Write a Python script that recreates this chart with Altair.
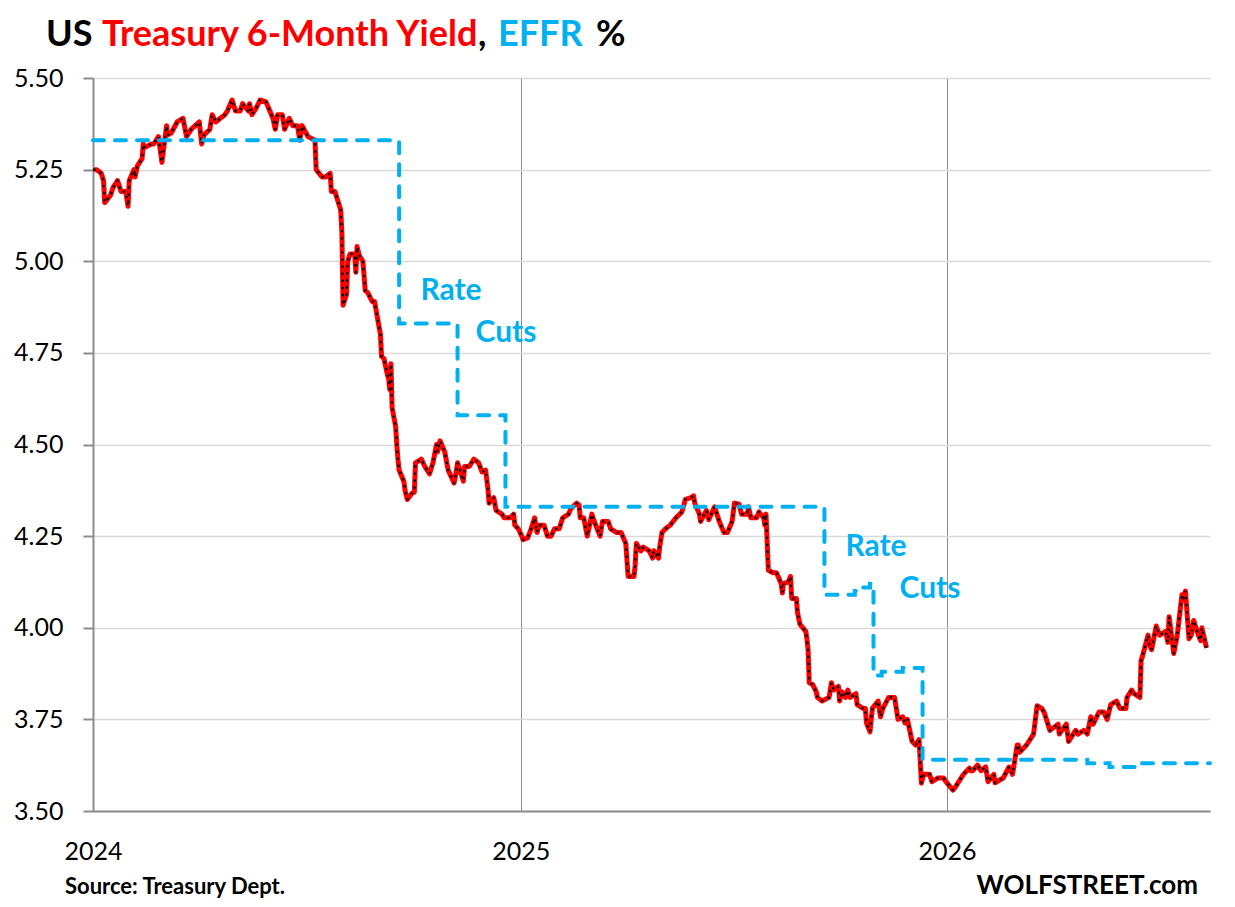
import altair as alt
import pandas as pd

# ---------------- data ----------------
yield_dates = [
    "2024-01-02", "2024-01-04", "2024-01-08", "2024-01-10", "2024-01-11", "2024-01-16", "2024-01-18",
    "2024-01-22", "2024-01-25", "2024-01-29", "2024-01-31", "2024-02-01", "2024-02-05", "2024-02-06",
    "2024-02-08", "2024-02-12", "2024-02-13", "2024-02-14", "2024-02-20", "2024-02-22", "2024-02-26",
    "2024-02-29", "2024-03-04", "2024-03-05", "2024-03-08", "2024-03-13", "2024-03-18", "2024-03-21",
    "2024-03-25", "2024-04-01", "2024-04-03", "2024-04-05", "2024-04-10", "2024-04-12", "2024-04-15",
    "2024-04-19", "2024-04-23", "2024-04-25", "2024-04-29", "2024-05-02", "2024-05-06", "2024-05-08",
    "2024-05-13", "2024-05-14", "2024-05-16", "2024-05-20", "2024-05-23", "2024-05-28", "2024-05-30",
    "2024-06-03", "2024-06-05", "2024-06-07", "2024-06-11", "2024-06-13", "2024-06-17", "2024-06-20",
    "2024-06-24", "2024-06-26", "2024-06-28", "2024-07-03", "2024-07-09", "2024-07-10", "2024-07-15",
    "2024-07-18", "2024-07-22", "2024-07-23", "2024-07-26", "2024-07-29", "2024-07-31", "2024-08-01",
    "2024-08-02", "2024-08-05", "2024-08-06", "2024-08-08", "2024-08-12", "2024-08-13", "2024-08-14",
    "2024-08-16", "2024-08-19", "2024-08-20", "2024-08-21", "2024-08-23", "2024-08-27", "2024-08-29",
    "2024-09-03", "2024-09-04", "2024-09-06", "2024-09-09", "2024-09-10", "2024-09-11", "2024-09-12",
    "2024-09-13", "2024-09-16", "2024-09-17", "2024-09-18", "2024-09-19", "2024-09-23", "2024-09-24",
    "2024-09-26", "2024-09-30", "2024-10-02", "2024-10-03", "2024-10-08", "2024-10-11", "2024-10-15",
    "2024-10-18", "2024-10-21", "2024-10-22", "2024-10-24", "2024-10-28", "2024-10-31", "2024-11-05",
    "2024-11-06", "2024-11-08", "2024-11-13", "2024-11-14", "2024-11-18", "2024-11-22", "2024-11-26",
    "2024-11-29", "2024-12-02", "2024-12-04", "2024-12-05", "2024-12-09", "2024-12-11", "2024-12-16",
    "2024-12-18", "2024-12-23", "2024-12-26", "2024-12-27", "2024-12-30",
    "2025-01-02", "2025-01-03", "2025-01-07", "2025-01-10", "2025-01-13", "2025-01-15", "2025-01-17",
    "2025-01-21", "2025-01-24", "2025-01-27", "2025-01-30", "2025-02-03", "2025-02-06", "2025-02-11",
    "2025-02-13", "2025-02-18", "2025-02-20", "2025-02-21", "2025-02-24", "2025-02-27", "2025-03-03",
    "2025-03-05", "2025-03-10", "2025-03-12", "2025-03-17", "2025-03-19", "2025-03-24", "2025-03-28",
    "2025-04-01", "2025-04-03", "2025-04-08", "2025-04-09", "2025-04-10", "2025-04-14", "2025-04-16",
    "2025-04-21", "2025-04-24", "2025-04-25", "2025-04-29", "2025-04-30", "2025-05-02", "2025-05-05",
    "2025-05-09", "2025-05-14", "2025-05-19", "2025-05-22", "2025-05-27", "2025-05-29", "2025-05-30",
    "2025-06-03", "2025-06-04", "2025-06-09", "2025-06-11", "2025-06-16", "2025-06-20", "2025-06-24",
    "2025-06-27", "2025-07-01", "2025-07-03", "2025-07-07", "2025-07-09", "2025-07-14", "2025-07-15",
    "2025-07-17", "2025-07-22", "2025-07-24", "2025-07-28", "2025-07-29", "2025-07-30", "2025-08-01",
    "2025-08-05", "2025-08-08", "2025-08-12", "2025-08-13", "2025-08-14", "2025-08-18", "2025-08-20",
    "2025-08-21", "2025-08-25", "2025-08-26", "2025-08-28", "2025-09-02", "2025-09-03", "2025-09-04",
    "2025-09-05", "2025-09-08", "2025-09-11", "2025-09-12", "2025-09-16", "2025-09-22", "2025-09-24",
    "2025-09-26", "2025-09-30", "2025-10-01", "2025-10-03", "2025-10-06", "2025-10-08", "2025-10-10",
    "2025-10-15", "2025-10-16", "2025-10-21", "2025-10-23", "2025-10-24", "2025-10-27", "2025-10-29",
    "2025-11-03", "2025-11-05", "2025-11-07", "2025-11-12", "2025-11-17", "2025-11-18", "2025-11-20",
    "2025-11-24", "2025-11-26", "2025-11-28", "2025-12-02", "2025-12-05", "2025-12-08", "2025-12-10",
    "2025-12-12", "2025-12-17", "2025-12-19", "2025-12-24", "2025-12-29", "2025-12-31",
    "2026-01-06", "2026-01-08", "2026-01-13", "2026-01-15", "2026-01-20", "2026-01-21", "2026-01-23",
    "2026-01-27", "2026-01-30", "2026-02-03", "2026-02-05", "2026-02-10", "2026-02-11", "2026-02-18",
    "2026-02-23", "2026-02-26", "2026-03-02", "2026-03-03", "2026-03-04", "2026-03-10", "2026-03-16",
    "2026-03-19", "2026-03-23", "2026-03-25", "2026-03-30", "2026-04-06", "2026-04-07", "2026-04-13",
    "2026-04-15", "2026-04-21", "2026-04-23", "2026-04-28", "2026-05-01", "2026-05-04", "2026-05-06",
    "2026-05-11", "2026-05-15", "2026-05-18", "2026-05-21", "2026-05-26", "2026-05-29", "2026-06-03",
    "2026-06-04", "2026-06-08", "2026-06-10", "2026-06-15", "2026-06-16", "2026-06-17", "2026-06-22",
    "2026-06-23", "2026-06-25", "2026-06-29", "2026-06-30", "2026-07-02", "2026-07-07", "2026-07-09",
    "2026-07-10", "2026-07-14", "2026-07-17", "2026-07-21", "2026-07-22", "2026-07-24", "2026-07-27",
    "2026-07-29", "2026-07-31", "2026-08-04", "2026-08-06", "2026-08-07", "2026-08-11",
]
yield_values = [
    5.25, 5.25, 5.24, 5.22, 5.16, 5.18, 5.20,
    5.22, 5.19, 5.19, 5.15, 5.22, 5.25, 5.23,
    5.26, 5.28, 5.32, 5.31, 5.32, 5.32, 5.34,
    5.27, 5.37, 5.345, 5.35, 5.38, 5.39, 5.34,
    5.36, 5.38, 5.32, 5.345, 5.36, 5.40, 5.38,
    5.39, 5.40, 5.41, 5.44, 5.41, 5.41, 5.43,
    5.41, 5.43, 5.40, 5.42, 5.44, 5.435, 5.42,
    5.39, 5.36, 5.40, 5.40, 5.36, 5.39, 5.37,
    5.37, 5.33, 5.37, 5.34, 5.33, 5.25, 5.23,
    5.23, 5.24, 5.19, 5.19, 5.16, 5.14, 5.08,
    4.88, 4.91, 5.00, 5.02, 5.02, 4.97, 5.04,
    5.015, 5.00, 4.96, 4.92, 4.915, 4.89, 4.89,
    4.80, 4.74, 4.735, 4.69, 4.68, 4.65, 4.72,
    4.60, 4.55, 4.50, 4.46, 4.43, 4.40, 4.376,
    4.35, 4.367, 4.37, 4.45, 4.46, 4.44, 4.42,
    4.45, 4.50, 4.48, 4.51, 4.48, 4.43, 4.395,
    4.41, 4.45, 4.40, 4.44, 4.44, 4.46, 4.45,
    4.425, 4.43, 4.38, 4.34, 4.355, 4.32, 4.31,
    4.30, 4.30, 4.31, 4.28, 4.27,
    4.25, 4.24, 4.245, 4.27, 4.30, 4.26, 4.28,
    4.28, 4.25, 4.25, 4.27, 4.27, 4.30, 4.31,
    4.325, 4.34, 4.335, 4.30, 4.30, 4.25, 4.31,
    4.29, 4.25, 4.29, 4.29, 4.27, 4.26, 4.26,
    4.23, 4.14, 4.14, 4.17, 4.23, 4.21, 4.22,
    4.21, 4.19, 4.21, 4.19, 4.22, 4.26, 4.27,
    4.28, 4.30, 4.316, 4.35, 4.355, 4.36, 4.34,
    4.31, 4.29, 4.32, 4.295, 4.33, 4.29, 4.26,
    4.26, 4.29, 4.34, 4.337, 4.31, 4.31, 4.33,
    4.30, 4.30, 4.316, 4.30, 4.28, 4.31, 4.157,
    4.15, 4.15, 4.12, 4.095, 4.12, 4.125, 4.14,
    4.08, 4.08, 4.04, 4.01, 3.99, 3.97, 3.94,
    3.85, 3.845, 3.825, 3.81, 3.80, 3.81, 3.85,
    3.83, 3.84, 3.80, 3.825, 3.81, 3.83, 3.81,
    3.82, 3.79, 3.78, 3.78, 3.74, 3.716, 3.78,
    3.80, 3.757, 3.78, 3.81, 3.81, 3.79, 3.75,
    3.757, 3.74, 3.75, 3.69, 3.68, 3.695, 3.576,
    3.60, 3.60, 3.58, 3.59, 3.59, 3.58,
    3.557, 3.565, 3.59, 3.60, 3.617, 3.61, 3.61,
    3.625, 3.61, 3.62, 3.58, 3.60, 3.577, 3.59,
    3.62, 3.60, 3.68, 3.68, 3.66, 3.68, 3.71,
    3.787, 3.78, 3.77, 3.72, 3.737, 3.71, 3.737,
    3.69, 3.72, 3.71, 3.72, 3.71, 3.757, 3.737,
    3.77, 3.77, 3.75, 3.79, 3.80, 3.78, 3.78,
    3.81, 3.83, 3.82, 3.81, 3.91, 3.92, 3.98,
    3.955, 3.94, 4.005, 3.995, 3.98, 3.99, 3.96,
    4.03, 3.93, 3.98, 4.09, 4.08, 4.10, 3.97,
    3.98, 4.02, 3.98, 3.965, 4.00, 3.945,
]

effr_dates = [
    "2024-01-01", "2024-09-19", "2024-11-08", "2024-12-19", "2025-09-18", "2025-10-14",
    "2025-10-21", "2025-10-27", "2025-10-30", "2025-11-06", "2025-11-24", "2025-12-11",
    "2026-05-01", "2026-05-20", "2026-06-12", "2026-08-14",
]
effr_values = [
    5.33, 4.83, 4.58, 4.33, 4.09, 4.10,
    4.11, 4.12, 3.87, 3.88, 3.89, 3.64,
    3.63, 3.62, 3.63, 3.63,
]

y_ticks = [3.50, 3.75, 4.00, 4.25, 4.50, 4.75, 5.00, 5.25, 5.50]
year_ticks = [2024, 2025, 2026]

# ---------------- styling ----------------
FONT = "Lato"
RED = "#FF0000"
BLUE = "#00B0F0"
W, H = 1117, 733

yield_df = pd.DataFrame({"date": yield_dates, "value": yield_values})
effr_df = pd.DataFrame({"date": effr_dates, "value": effr_values})
one = pd.DataFrame({"k": [0]})

x_scale = alt.Scale(
    type="utc",
    domain=[alt.DateTime(year=2024, month=1, date=1, utc=True),
            alt.DateTime(year=2026, month=8, date=14, utc=True)],
)
y_scale = alt.Scale(domain=[3.5, 5.5], nice=False, zero=False)

x_axis = alt.Axis(
    values=[alt.DateTime(year=yr, month=1, date=1, utc=True) for yr in year_ticks],
    labelExpr="utcFormat(datum.value, '%Y')",
    grid=True, gridColor="#8C8C8C", gridWidth=1,
    domainColor="#8C8C8C", domainWidth=2,
    ticks=False, labelFlush=False,
    labelFont=FONT, labelFontSize=25, labelColor="#000000", labelPadding=28,
    title=None,
)
y_axis = alt.Axis(
    values=y_ticks, format=".2f",
    grid=True, gridColor="#D9D9D9", gridWidth=1.5,
    domainColor="#8C8C8C", domainWidth=2,
    tickColor="#8C8C8C", tickSize=10, tickWidth=2,
    labelFont=FONT, labelFontSize=25, labelColor="#000000", labelPadding=20,
    title=None,
)

X = alt.X("date:T", scale=x_scale, axis=x_axis)
Y = alt.Y("value:Q", scale=y_scale, axis=y_axis)

red_line = alt.Chart(yield_df).mark_line(
    color=RED, strokeWidth=5, strokeJoin="round"
).encode(x=X, y=Y)

black_dots = alt.Chart(yield_df).mark_line(
    color="#000000", strokeWidth=2.6, strokeDash=[0.1, 7], strokeCap="round"
).encode(x=X, y=Y)

blue_line = alt.Chart(effr_df).mark_line(
    color=BLUE, strokeWidth=4, strokeDash=[11, 11], strokeCap="round",
    interpolate="step-after",
).encode(x=X, y=Y)


def label(text, x, y, color="#000000", size=36, align="left", baseline="alphabetic"):
    return alt.Chart(one).mark_text(
        text=text, font=FONT, fontWeight="bold", fontSize=size, color=color,
        align=align, baseline=baseline,
    ).encode(x=alt.value(x), y=alt.value(y))


title_parts = [
    label("US", -47, -32),
    label("Treasury 6-Month Yield", 9, -32, color=RED),
    label(",", 385, -32),
    label("EFFR", 405, -32, color=BLUE),
    label("%", 503, -32),
]

notes = [
    label("Rate", 358, 213, color=BLUE, size=30, align="center", baseline="middle"),
    label("Cuts", 413, 255, color=BLUE, size=30, align="center", baseline="middle"),
    label("Rate", 783, 469, color=BLUE, size=30, align="center", baseline="middle"),
    label("Cuts", 837, 511, color=BLUE, size=30, align="center", baseline="middle"),
]

footer = [
    label("Source: Treasury Dept.", -28, 816, size=22),
    label("WOLFSTREET.com", 1105, 816, size=26, align="right"),
]

chart = alt.layer(
    red_line, black_dots, blue_line, *notes, *title_parts, *footer
).properties(
    width=W, height=H,
    autosize=alt.AutoSizeParams(type="none"),
    padding={"left": 85, "top": 70, "right": 10, "bottom": 88},
    background="#FFFFFF",
).configure_view(stroke=None)

chart.save("out.html", embed_options={"renderer": "svg", "actions": False})
